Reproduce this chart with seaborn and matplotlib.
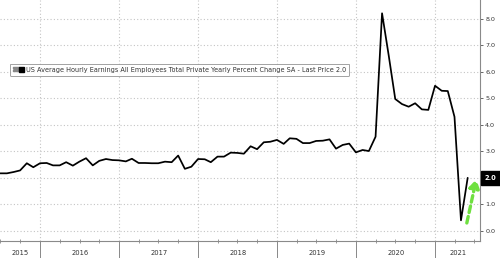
import numpy as np
import pandas as pd
import matplotlib
matplotlib.use("Agg")
import matplotlib.pyplot as plt
import matplotlib.dates as mdates
import matplotlib.transforms as mtransforms
from matplotlib.lines import Line2D
from matplotlib.legend_handler import HandlerTuple
import seaborn as sns

# ---- data (monthly YoY %, month-end dates) ----
start_month = "2015-06-30"
vals_2015 = [2.17, 2.17, 2.22, 2.28, 2.55, 2.40, 2.55]
vals_2016 = [2.56, 2.47, 2.47, 2.59, 2.46, 2.61, 2.74, 2.47, 2.64, 2.71, 2.67, 2.66]
vals_2017 = [2.62, 2.72, 2.56, 2.56, 2.55, 2.55, 2.61, 2.59, 2.84, 2.34, 2.42, 2.71]
vals_2018 = [2.70, 2.59, 2.80, 2.80, 2.95, 2.94, 2.91, 3.19, 3.08, 3.34, 3.36, 3.43]
vals_2019 = [3.28, 3.49, 3.47, 3.31, 3.31, 3.39, 3.40, 3.45, 3.10, 3.24, 3.29, 2.96]
vals_2020 = [3.05, 3.01, 3.55, 8.20, 6.60, 4.97, 4.78, 4.68, 4.81, 4.58, 4.56, 5.47]
vals_2021 = [5.28, 5.27, 4.30, 0.40, 2.00]
year_labels = ["2015", "2016", "2017", "2018", "2019", "2020", "2021"]
y_ticks = [0, 1, 2, 3, 4, 5, 6, 7, 8]
series_name = "US Average Hourly Earnings All Employees Total Private Yearly Percent Change SA - Last Price 2.0"

values = vals_2015 + vals_2016 + vals_2017 + vals_2018 + vals_2019 + vals_2020 + vals_2021
dates = pd.date_range(start_month, periods=len(values), freq="ME")
df = pd.DataFrame({"date": dates, "value": values})
last_val = values[-1]

sns.set_style("white")
plt.rcParams["font.family"] = ["DejaVu Sans"]

fig = plt.figure(figsize=(5.0, 2.58), dpi=100)
ax = fig.add_axes([0.0, 17.5 / 258, 480 / 500, 240.5 / 258])

sns.lineplot(data=df, x="date", y="value", ax=ax, color="black", linewidth=1.25)

ax.set_xlim(pd.Timestamp("2015-06-29"), pd.Timestamp("2021-07-27"))
ax.set_ylim(-0.36, 8.70)

# grids
grid_kw = dict(color="#c4c4c4", linestyle=(0, (1, 2)), linewidth=0.8)
ax.set_yticks(y_ticks)
ax.yaxis.grid(True, **grid_kw)
ax.xaxis.set_major_locator(mdates.YearLocator())
ax.xaxis.set_minor_locator(mdates.MonthLocator(bymonth=[4, 7, 10]))
ax.xaxis.grid(True, which="major", **grid_kw)

# axis styling (tick label at the last value is covered by the price tag)
ax.yaxis.tick_right()
ax.yaxis.set_major_formatter(matplotlib.ticker.FuncFormatter(
    lambda v, p: "" if abs(v - last_val) < 1e-9 else f"{v:.1f}"))
ax.tick_params(axis="y", which="both", right=True, left=False, length=2.5, width=0.7,
               color="#666666", labelsize=4.6, labelcolor="#333333", pad=1.2)
ax.tick_params(axis="x", which="major", bottom=True, length=13, width=0.7, color="#888888",
               labelbottom=False, direction="out")
ax.tick_params(axis="x", which="minor", bottom=True, length=3.5, width=0.6, color="#888888",
               direction="inout")
for s in ["top", "left"]:
    ax.spines[s].set_visible(False)
for s in ["right", "bottom"]:
    ax.spines[s].set_color("#8a8a8a")
    ax.spines[s].set_linewidth(0.8)
ax.set_xlabel("")
ax.set_ylabel("")

# year labels centered in visible portion of each year
trans = mtransforms.blended_transform_factory(ax.transData, ax.transAxes)
xmin, xmax = ax.get_xlim()
for yl in year_labels:
    y0 = mdates.date2num(pd.Timestamp(f"{yl}-01-01"))
    y1 = mdates.date2num(pd.Timestamp(f"{int(yl) + 1}-01-01"))
    c = (max(y0, xmin) + min(y1, xmax)) / 2
    ax.text(c, -0.052, yl, transform=trans, ha="center", va="center",
            fontsize=4.9, color="#333333", clip_on=False)

# legend with "≡" + black square handle
h_menu = Line2D([], [], marker="$\\equiv$", color="#888888", linestyle="none", markersize=3.8)
h_sq = Line2D([], [], marker="s", color="black", linestyle="none", markersize=3.6)
leg = ax.legend([(h_menu, h_sq)], [series_name], loc="upper left",
                handler_map={tuple: HandlerTuple(ndivide=None, pad=0.1)},
                bbox_to_anchor=(10 / 480, (240.5 - 63.5) / 240.5),
                fontsize=4.7, frameon=True, fancybox=True, borderpad=0.5,
                handlelength=1.6, handletextpad=0.3, borderaxespad=0.0,
                labelcolor="#333333")
leg.get_frame().set_edgecolor("#8a8a8a")
leg.get_frame().set_linewidth(0.7)
leg.get_frame().set_boxstyle("round,pad=0.0,rounding_size=0.15")
leg.set_zorder(5)

# last price tag
ax.annotate(f"{last_val:.1f}", xy=(1.0, last_val),
            xycoords=mtransforms.blended_transform_factory(ax.transAxes, ax.transData),
            xytext=(3.5, 0), textcoords="offset points", ha="left", va="center",
            fontsize=4.8, color="white", fontweight="bold",
            bbox=dict(boxstyle="square,pad=0.55", fc="black", ec="black"),
            annotation_clip=False)

# green dashed arrow highlighting rebound
d_last = mdates.date2num(dates[-1])
ax.annotate("", xy=(d_last + 40, last_val - 0.05), xytext=(d_last - 4, values[-2] - 0.1),
            arrowprops=dict(arrowstyle="-|>,head_length=0.5,head_width=0.3",
                            color="#6fe040", linewidth=2.4, linestyle=(0, (2, 1.2)),
                            shrinkA=0, shrinkB=0))

fig.savefig("out.png", dpi=100)
